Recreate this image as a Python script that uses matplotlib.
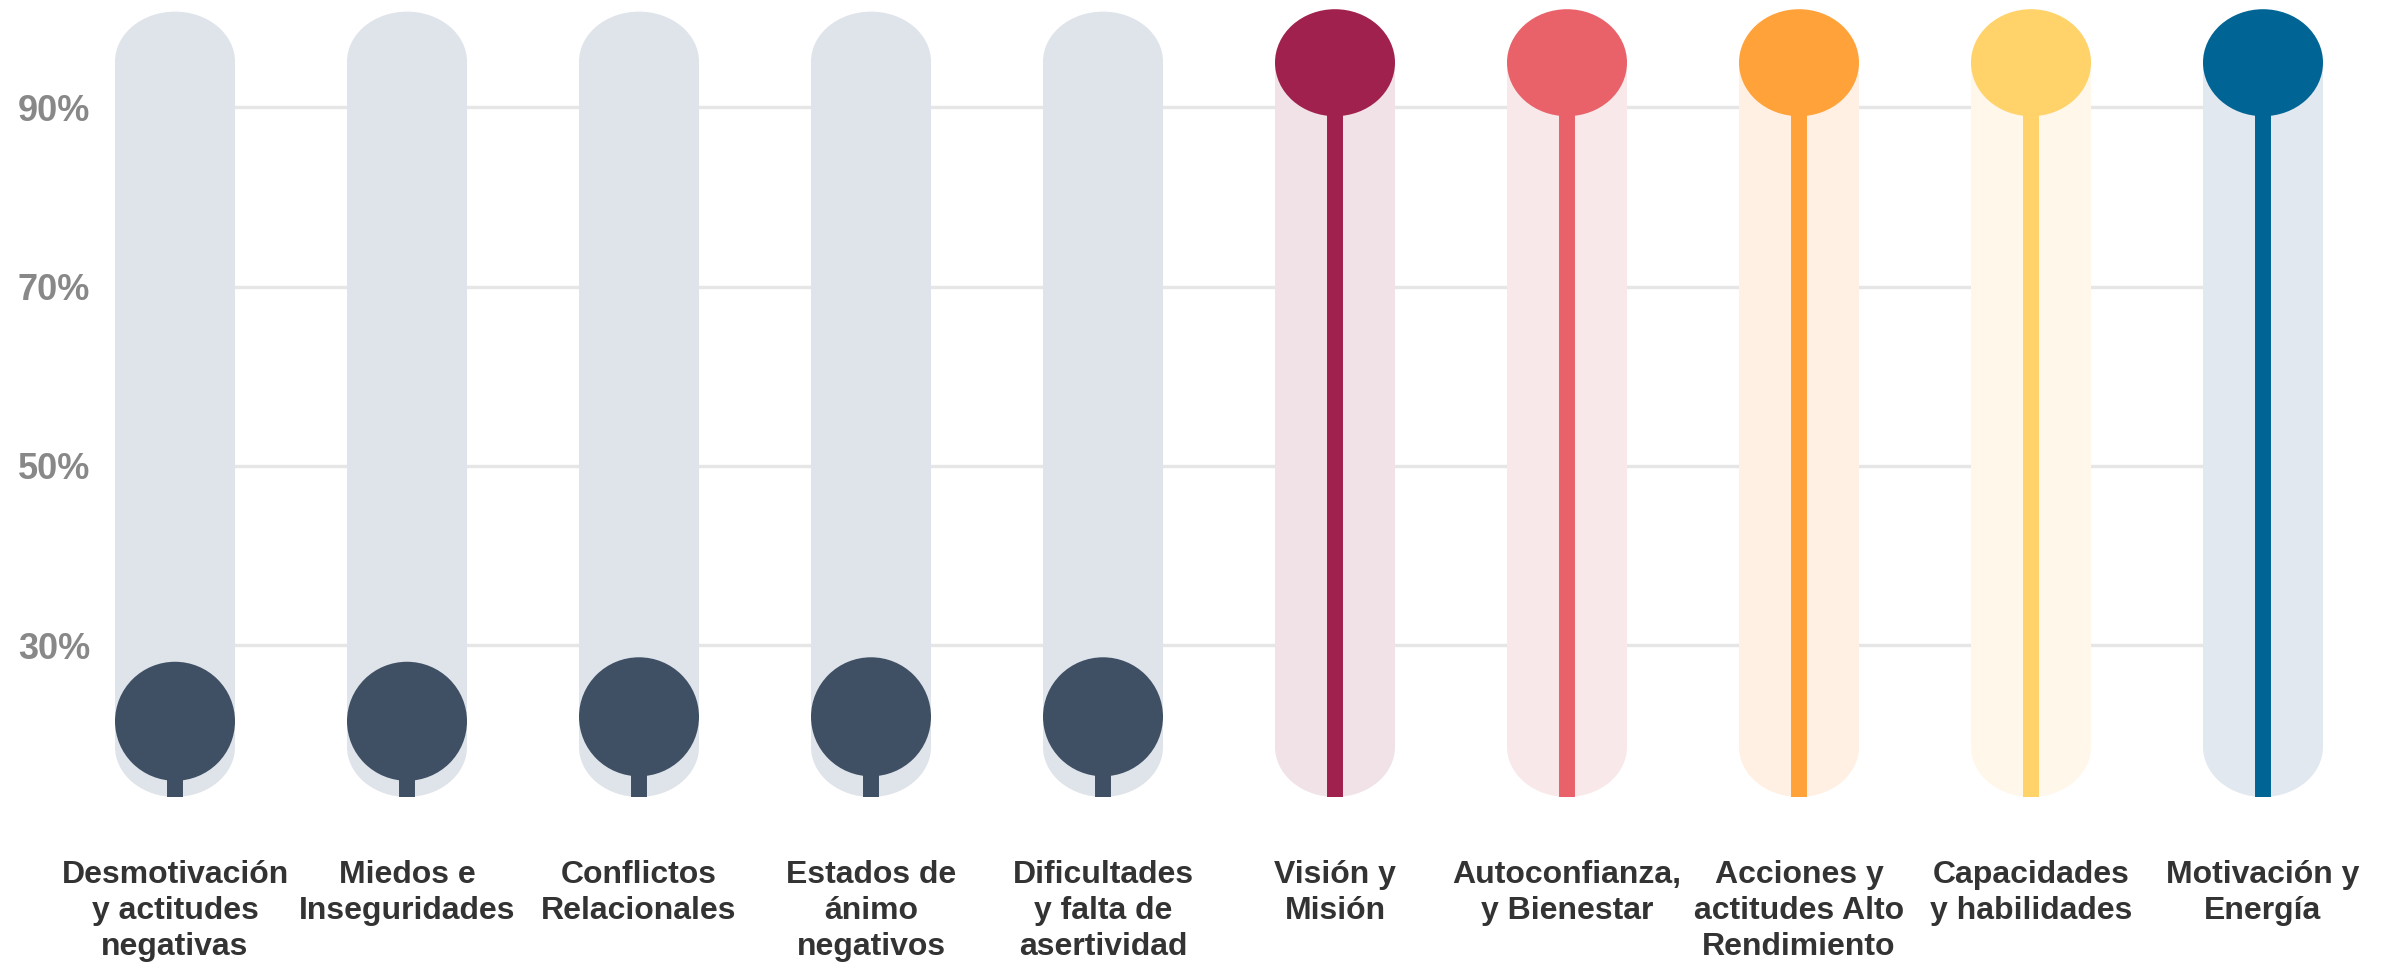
import matplotlib
matplotlib.use('Agg')
import matplotlib.pyplot as plt
from matplotlib.patches import Ellipse, Rectangle

plt.rcParams['font.family'] = ['Liberation Sans', 'DejaVu Sans']

# data
categories = ['Desmotivación\ny actitudes\nnegativas', 'Miedos e\nInseguridades',
              'Conflictos\nRelacionales', 'Estados de\nánimo\nnegativos',
              'Dificultades\ny falta de\nasertividad', 'Visión y\nMisión',
              'Autoconfianza,\ny Bienestar', 'Acciones y\nactitudes Alto\nRendimiento',
              'Capacidades\ny habilidades', 'Motivación y\nEnergía']
values = [21.5, 21.5, 22, 22, 22, 95, 95, 95, 95, 95]
marker_colors = ['#3f5065'] * 5 + ['#a0214d', '#e9626a', '#ffa239', '#ffd36a', '#006595']
bg_colors = ['#dfe3ea'] * 5 + ['#f0e2e7', '#f9e8ea', '#fff0e3', '#fff7ea', '#e1e8ef']
grid_values = [30, 50, 70, 90]

W, H = 2402, 963
fig = plt.figure(figsize=(W / 100, H / 100), dpi=100)
# axes placed in pixel terms
left_px, right_px, top_px, bot_px = 100, 2360, 0, 810
ax = fig.add_axes([left_px / W, (H - bot_px) / H, (right_px - left_px) / W, (bot_px - top_px) / H])

x0_px, dx_px = 175, 232.0             # first column centre, column spacing
y90_px, py_per_pct = 107.5, 8.96      # pixel row of 90 %, pixels per percent
xmin = (left_px - x0_px) / dx_px
xmax = (right_px - x0_px) / dx_px
ymax = 90 + (y90_px - top_px) / py_per_pct
ymin = 90 - (bot_px - y90_px) / py_per_pct
ax.set_xlim(xmin, xmax)
ax.set_ylim(ymin, ymax)

# pixel -> data helpers
def wx(px):
    return px / dx_px

def hy(px):
    return px / py_per_pct

bar_lo, bar_hi = 13.05, 100.7
cap_h = hy(100)
bar_w = wx(120)
n = len(categories)
xs = list(range(n))

# gridlines
ax.hlines(grid_values, xs[0], xs[-1], color='#e6e6e6', linewidth=2.4, zorder=1)

for x, v, mc, bc, i in zip(xs, values, marker_colors, bg_colors, range(n)):
    # background rounded bar
    ax.add_patch(Rectangle((x - bar_w / 2, bar_lo + cap_h / 2), bar_w,
                           bar_hi - bar_lo - cap_h, facecolor=bc, edgecolor='none', zorder=2))
    ax.add_patch(Ellipse((x, bar_lo + cap_h / 2), bar_w, cap_h, facecolor=bc,
                         edgecolor='none', zorder=2))
    ax.add_patch(Ellipse((x, bar_hi - cap_h / 2), bar_w, cap_h, facecolor=bc,
                         edgecolor='none', zorder=2))
    # stem
    ax.vlines(x, bar_lo, v, color=mc, linewidth=11.5, zorder=3, capstyle='butt')
    # marker
    mh = hy(119) if i < 5 else hy(107)
    ax.add_patch(Ellipse((x, v), bar_w, mh, facecolor=mc, edgecolor='none', zorder=4))

ax.set_yticks(grid_values)
ax.set_yticklabels([f'{g}%' for g in grid_values], fontsize=26, fontweight='bold',
                   color='#888888', va='top')
for lab in ax.get_yticklabels():
    lab.set_verticalalignment('center_baseline')
ax.set_xticks(xs)
ax.set_xticklabels(categories, fontsize=23, fontweight='bold', color='#333333')
for lab in ax.get_xticklabels():
    lab.set_linespacing(1.25)
ax.tick_params(axis='y', length=0, pad=7)
ax.tick_params(axis='x', length=0, pad=36)
for s in ax.spines.values():
    s.set_visible(False)

fig.savefig('out.png', dpi=100, facecolor='white')
